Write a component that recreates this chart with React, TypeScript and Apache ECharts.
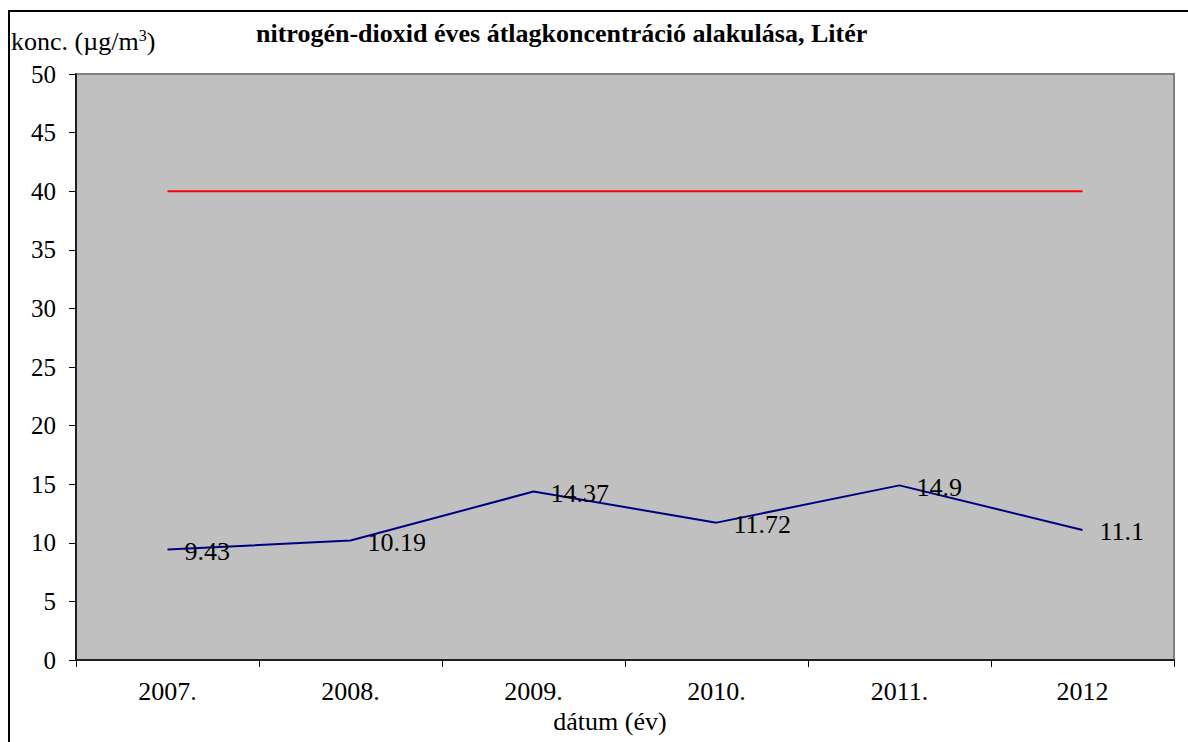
import React, { useEffect, useRef } from "react";
import * as echarts from "echarts";

const categories = ["2007.", "2008.", "2009.", "2010.", "2011.", "2012"];
const no2Values = [9.43, 10.19, 14.37, 11.72, 14.9, 11.1];
const limitValues = [40, 40, 40, 40, 40, 40];

const FONT = "'Liberation Serif', 'Times New Roman', serif";

export default function App() {
  const ref = useRef<HTMLDivElement>(null);
  useEffect(() => {
    if (!ref.current) return;
    const chart = echarts.init(ref.current, undefined, { renderer: "svg" });
    chart.setOption({
      animation: false,
      backgroundColor: "#ffffff",
      textStyle: { fontFamily: FONT },
      title: {
        text: "nitrogén-dioxid éves átlagkoncentráció alakulása, Litér",
        left: 256,
        top: 20,
        padding: 0,
        textStyle: { fontFamily: FONT, fontWeight: "bold", fontSize: 26, color: "#000" },
      },
      grid: {
        left: 76,
        right: 14,
        top: 74,
        bottom: 82,
        show: true,
        backgroundColor: "#c0c0c0",
        borderColor: "#808080",
        borderWidth: 2,
      },
      xAxis: {
        type: "category",
        data: categories,
        boundaryGap: true,
        name: "dátum (év)",
        nameLocation: "middle",
        nameGap: 47,
        nameTextStyle: { fontFamily: FONT, fontSize: 26, color: "#000", padding: [0, 30, 0, 0] },
        axisLine: { show: true, lineStyle: { color: "#000", width: 1.5 } },
        axisTick: { show: true, length: 7, lineStyle: { color: "#000" } },
        axisLabel: { fontFamily: FONT, fontSize: 26, color: "#000", margin: 18 },
        splitLine: { show: false },
      },
      yAxis: {
        type: "value",
        min: 0,
        max: 50,
        interval: 5,
        axisLine: { show: true, lineStyle: { color: "#000", width: 1.5 } },
        axisTick: { show: true, length: 7, lineStyle: { color: "#000" } },
        axisLabel: { fontFamily: FONT, fontSize: 25, color: "#000", margin: 20 },
        splitLine: { show: false },
      },
      graphic: [
        {
          type: "rect",
          shape: { x: 9, y: 11, width: 1200, height: 760 },
          style: { fill: "none", stroke: "#000", lineWidth: 2 },
          silent: true,
          z: 100,
        },
        {
          type: "text",
          x: 11,
          y: 27,
          style: {
            text: "{a|konc. (µg/m}{s|3}{a|)}",
            rich: {
              a: { fontFamily: FONT, fontSize: 26, fill: "#000" },
              s: { fontFamily: FONT, fontSize: 16, fill: "#000", verticalAlign: "top", padding: [0, 0, 12, 0] },
            },
          },
        },
      ],
      series: [
        {
          name: "határérték",
          type: "line",
          data: limitValues,
          symbol: "none",
          lineStyle: { color: "#ff0000", width: 2 },
          itemStyle: { color: "#ff0000" },
        },
        {
          name: "NO2",
          type: "line",
          data: no2Values,
          symbol: "circle",
          symbolSize: 0,
          showSymbol: true,
          lineStyle: { color: "#000080", width: 2 },
          itemStyle: { color: "#000080" },
          label: {
            show: true,
            position: "right",
            distance: 17,
            offset: [0, 2],
            fontFamily: FONT,
            fontSize: 26,
            color: "#000",
          },
        },
      ],
    });
    return () => chart.dispose();
  }, []);
  return (
    <div
      ref={ref}
      style={{ position: "fixed", left: 0, top: 0, width: 1188, height: 742 }}
    />
  );
}
